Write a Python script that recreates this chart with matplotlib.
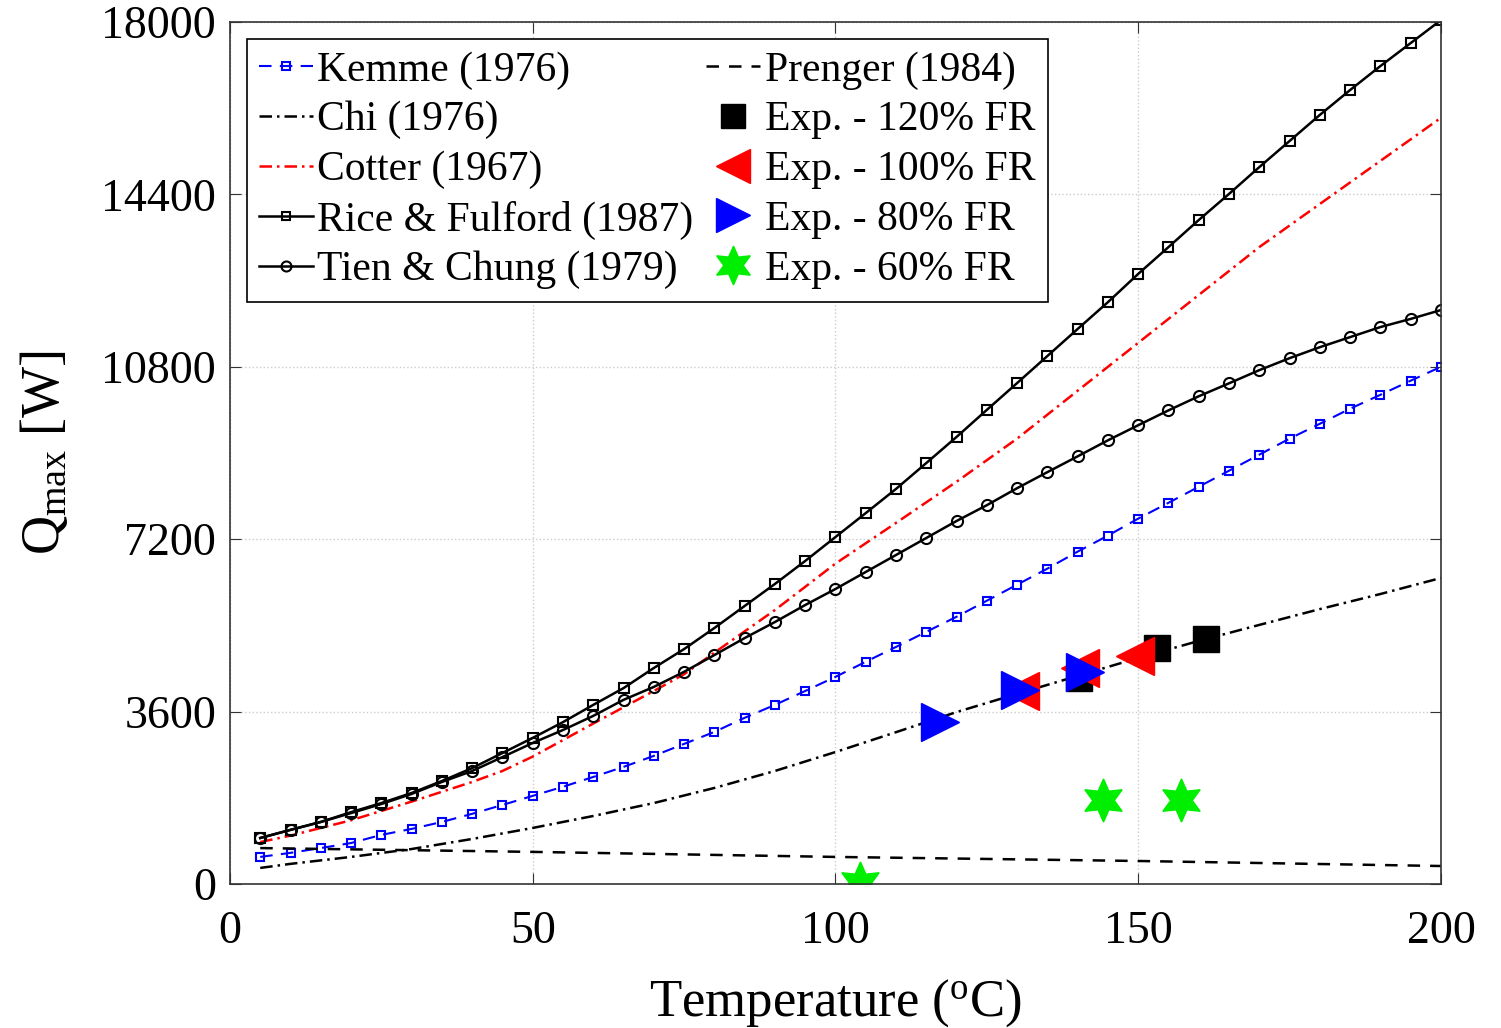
import numpy as np
import matplotlib
matplotlib.use("Agg")
import matplotlib.pyplot as plt

plt.rcParams["font.family"] = ["Liberation Serif", "DejaVu Serif"]
plt.rcParams["mathtext.fontset"] = "custom"
plt.rcParams["mathtext.rm"] = "Liberation Serif"
plt.rcParams["mathtext.it"] = "Liberation Serif:italic"

# temperature grid of the correlation curves (deg C)
temp = np.arange(5, 201, 5)

kemme = [565, 650, 750, 855, 1025, 1150, 1295, 1465, 1650, 1840, 2030, 2235, 2445,
         2675, 2925, 3175, 3470, 3740, 4030, 4325, 4640, 4950, 5265, 5580, 5915,
         6250, 6585, 6940, 7275, 7630, 7960, 8295, 8630, 8965, 9300, 9610, 9925,
         10215, 10510, 10800]
rice = [960, 1130, 1295, 1500, 1690, 1900, 2150, 2420, 2735, 3050, 3380, 3740, 4090,
        4510, 4905, 5345, 5805, 6265, 6745, 7245, 7745, 8250, 8790, 9335, 9900,
        10460, 11025, 11590, 12150, 12740, 13300, 13865, 14410, 14970, 15515,
        16060, 16580, 17080, 17560, 18040]
tien = [960, 1130, 1295, 1480, 1670, 1880, 2130, 2360, 2650, 2945, 3215, 3510, 3845,
        4115, 4430, 4780, 5135, 5470, 5825, 6160, 6515, 6870, 7225, 7580, 7910,
        8265, 8600, 8930, 9265, 9580, 9890, 10185, 10455, 10730, 10980, 11210,
        11420, 11630, 11800, 11985]

cotter_t = [5, 10, 20, 30, 40, 45, 50, 60, 70, 75, 80, 90, 100, 110, 120, 130, 140,
            150, 160, 170, 180, 190, 200]
cotter = [875, 1010, 1330, 1720, 2130, 2360, 2660, 3350, 4030, 4380, 4830, 5720,
          6690, 7540, 8400, 9300, 10300, 11300, 12300, 13300, 14200, 15100, 16000]

chi_t = [5, 10, 20, 30, 40, 50, 60, 70, 80, 90, 100, 110, 120, 130, 140, 150, 160,
         170, 180, 190, 200]
chi = [335, 420, 565, 730, 940, 1170, 1420, 1690, 2005, 2360, 2755, 3170, 3590,
       3970, 4345, 4720, 5075, 5410, 5740, 6055, 6390]

prenger_t = [5, 50, 100, 150, 200]
prenger = [750, 670, 565, 480, 375]

# experiments (deg C, W)
exp120_t = [140.3, 153.1, 161.2]
exp120_q = [4300, 4930, 5115]
exp100_t = [130.5, 140.4, 149.5]
exp100_q = [4030, 4510, 4760]
exp80_t = [117.3, 130.5, 141.2]
exp80_q = [3380, 4050, 4430]
exp60_t = [104.0, 144.2, 157.1]
exp60_q = [20, 1755, 1755]


def main():
    fig = plt.figure(figsize=(15.01, 10.28), dpi=100)
    ax = fig.add_axes([0.1532, 0.1401, 0.8068, 0.8385])

    ax.plot(temp, kemme, color="blue", linestyle=(0, (6, 4)), linewidth=1.5,
            marker="s", markersize=6, markerfacecolor="none", markeredgewidth=1.5,
            label="Kemme (1976)")
    ax.plot(chi_t, chi, color="black", linestyle=(0, (5, 2, 1, 2)), linewidth=1.8,
            label="Chi (1976)")
    ax.plot(cotter_t, cotter, color="red", linestyle=(0, (5, 2, 1, 2)), linewidth=1.8,
            label="Cotter (1967)")
    ax.plot(temp, rice, color="black", linewidth=1.8, marker="s", markersize=6.5,
            markerfacecolor="none", markeredgewidth=1.5, label="Rice & Fulford (1987)")
    ax.plot(temp, tien, color="black", linewidth=1.8, marker="o", markersize=8,
            markerfacecolor="none", markeredgewidth=1.5, label="Tien & Chung (1979)")
    ax.plot(prenger_t, prenger, color="black", linestyle=(0, (5, 4)), linewidth=1.8,
            label="Prenger (1984)")

    ax.plot(exp120_t, exp120_q, "s", color="black", markersize=19, linestyle="none",
            label="Exp. - 120% FR")
    ax.plot(exp100_t, exp100_q, "<", color="red", markersize=27, linestyle="none",
            label="Exp. - 100% FR")
    ax.plot(exp80_t, exp80_q, ">", color="blue", markersize=27, linestyle="none",
            label="Exp. - 80% FR")
    ax.plot(exp60_t, exp60_q, marker=(6, 1, 0), color="#00ee00", markersize=31,
            linestyle="none", label="Exp. - 60% FR")

    ax.set_xlim(0, 200)
    ax.set_ylim(0, 18000)
    ax.set_xticks([0, 50, 100, 150, 200])
    ax.set_yticks([0, 3600, 7200, 10800, 14400, 18000])
    ax.tick_params(labelsize=33, direction="in", length=8, top=True, right=True,
                   color="#333333")
    ax.tick_params(axis="x", pad=19)
    ax.tick_params(axis="y", pad=10)
    ax.grid(True, linestyle=":", color="#cccccc", linewidth=1)
    for sp in ax.spines.values():
        sp.set_color("#333333")
        sp.set_linewidth(1.2)

    ax.set_xlabel("Temperature ($^{\\rm o}$C)", fontsize=38, labelpad=18)
    ax.set_ylabel("Q$_{\\rm max}$ [W]", fontsize=39, labelpad=22)

    leg = ax.legend(loc="upper left", ncol=2, fontsize=30, handlelength=1.3,
                    handletextpad=0.1, columnspacing=0.3, labelspacing=0.27,
                    borderpad=0.3, borderaxespad=0.4, fancybox=False,
                    edgecolor="black", framealpha=1, markerscale=0.9)
    leg.get_frame().set_linewidth(1.2)

    fig.savefig("out.png", dpi=100)


if __name__ == "__main__":
    main()
